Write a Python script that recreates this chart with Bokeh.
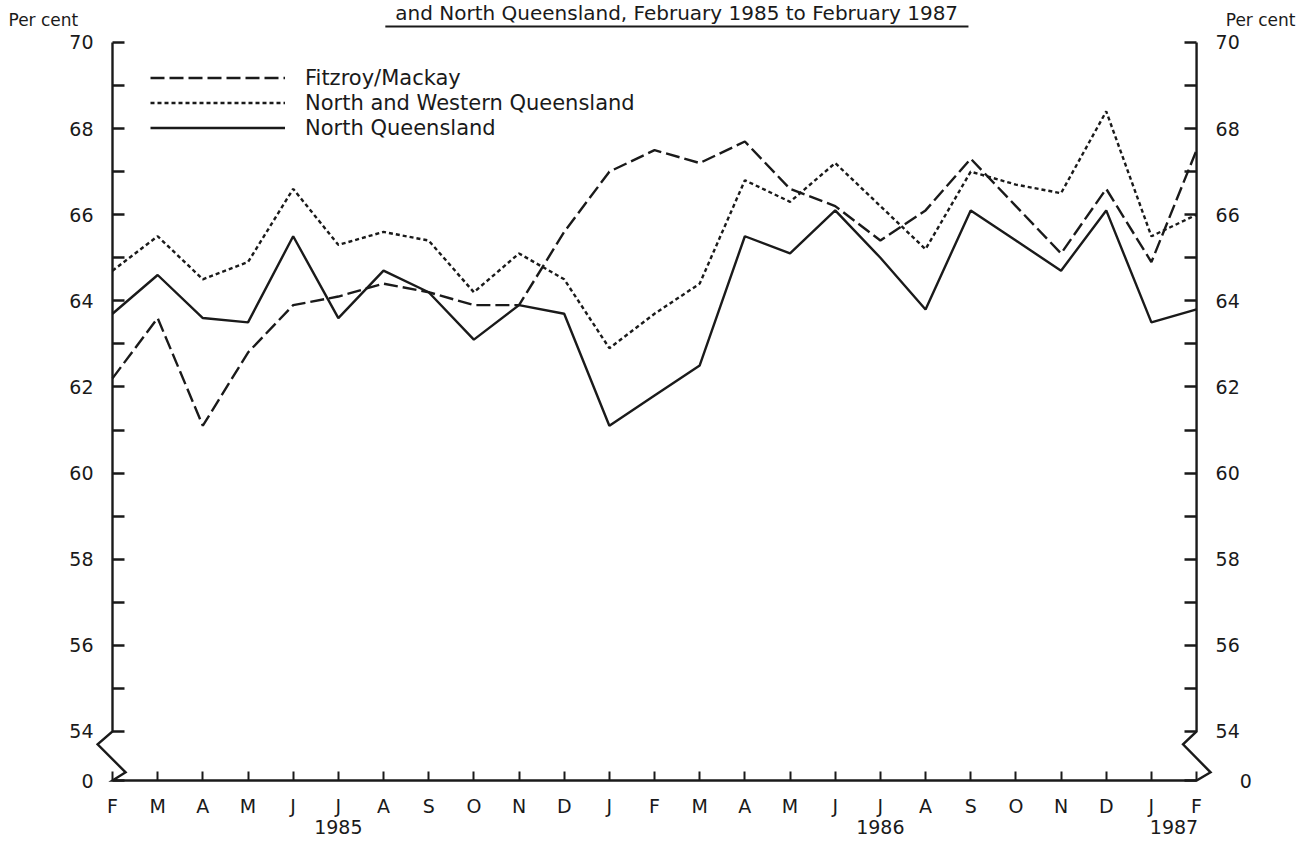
from bokeh.plotting import figure
from bokeh.models import (LinearAxis, FixedTicker, Range1d, Legend, LegendItem,
                          Label, ColumnDataSource)
from bokeh.embed import file_html
from bokeh.resources import INLINE

# ---------------- data ----------------
months = ["F", "M", "A", "M", "J", "J", "A", "S", "O", "N", "D", "J",
          "F", "M", "A", "M", "J", "J", "A", "S", "O", "N", "D", "J", "F"]
years = ["1985", "1986", "1987"]
year_pos = [5, 17, 23.5]

fitzroy_mackay = [62.2, 63.6, 61.1, 62.8, 63.9, 64.1, 64.4, 64.2, 63.9, 63.9,
                  65.6, 67.0, 67.5, 67.2, 67.7, 66.6, 66.2, 65.4, 66.1, 67.3,
                  66.2, 65.1, 66.6, 64.9, 67.5]
north_western_qld = [64.7, 65.5, 64.5, 64.9, 66.6, 65.3, 65.6, 65.4, 64.2, 65.1,
                     64.5, 62.9, 63.7, 64.4, 66.8, 66.3, 67.2, 66.2, 65.2, 67.0,
                     66.7, 66.5, 68.4, 65.5, 66.0]
north_qld = [63.7, 64.6, 63.6, 63.5, 65.5, 63.6, 64.7, 64.2, 63.1, 63.9,
             63.7, 61.1, 61.8, 62.5, 65.5, 65.1, 66.1, 65.0, 63.8, 66.1,
             65.4, 64.7, 66.1, 63.5, 63.8]

y_ticks = list(range(54, 71))
y_break = 52.86          # position at which the broken axis shows "0"
title_text = "and North Queensland, February 1985 to February 1987"

# ---------------- figure ----------------
FONT = "DejaVu Sans"
INK = "#1a1a1a"
W, H = 1300, 840

idx = list(range(len(months)))
src = ColumnDataSource(dict(x=idx, fm=fitzroy_mackay, nw=north_western_qld, nq=north_qld))

p = figure(width=W, height=H,
           x_range=Range1d(-2.4795, 26.301), y_range=Range1d(51.467, 70.975),
           output_backend="svg", toolbar_location=None,
           x_axis_type=None, y_axis_type=None,
           min_border_left=0, min_border_right=0,
           min_border_top=0, min_border_bottom=0)
p.min_border = 0
p.outline_line_color = None
p.background_fill_color = "white"
p.border_fill_color = "white"

# axis lines with the break zig-zags
n = len(months) - 1
p.line([0, 0, -0.33, 0.29, 0, n, n + 0.31, n - 0.3, n, n],
       [70, 54, 53.70, 53.05, y_break, y_break, 53.05, 53.70, 54, 70],
       line_color=INK, line_width=2.4, line_join="miter")

# y axes (ticks pointing inward, labels on even values)
for side, loc in (("left", 0), ("right", n)):
    overrides = {v: (str(v) if v % 2 == 0 else "") for v in y_ticks}
    overrides[y_break] = "0" if side == "left" else "\u2007\u20070"
    ax = LinearAxis(ticker=FixedTicker(ticks=[y_break] + y_ticks),
                    major_label_overrides=overrides, fixed_location=loc)
    ax.axis_line_color = None
    ax.major_tick_in = 12
    ax.major_tick_out = 0
    ax.major_tick_line_width = 2.4
    ax.major_tick_line_color = INK
    ax.minor_tick_line_color = None
    ax.major_label_standoff = 19
    ax.major_label_text_font = FONT
    ax.major_label_text_font_size = "19px"
    ax.major_label_text_color = INK
    p.add_layout(ax, side)

# x axis: month letters
xa = LinearAxis(ticker=FixedTicker(ticks=idx),
                major_label_overrides={i: m for i, m in enumerate(months)},
                fixed_location=y_break)
xa.axis_line_color = None
xa.major_tick_in = 9
xa.major_tick_out = 0
xa.major_tick_line_width = 2.0
xa.major_tick_line_color = INK
xa.minor_tick_line_color = None
xa.major_label_standoff = 14
xa.major_label_text_font = FONT
xa.major_label_text_font_size = "19px"
xa.major_label_text_color = INK
p.add_layout(xa, "below")

# x axis: years
ya = LinearAxis(ticker=FixedTicker(ticks=year_pos),
                major_label_overrides={v: t for v, t in zip(year_pos, years)},
                fixed_location=y_break)
ya.axis_line_color = None
ya.major_tick_line_color = None
ya.minor_tick_line_color = None
ya.major_label_standoff = 33
ya.major_label_text_font = FONT
ya.major_label_text_font_size = "19px"
ya.major_label_text_color = INK
p.add_layout(ya, "below")

# data lines
r_fm = p.line("x", "fm", source=src, line_color=INK, line_width=2.4, line_dash="14 5")
r_nw = p.line("x", "nw", source=src, line_color=INK, line_width=2.4, line_dash="4 3")
r_nq = p.line("x", "nq", source=src, line_color=INK, line_width=2.4)

legend = Legend(items=[LegendItem(label="Fitzroy/Mackay", renderers=[r_fm]),
                       LegendItem(label="North and Western Queensland", renderers=[r_nw]),
                       LegendItem(label="North Queensland", renderers=[r_nq])],
                location=(150, 700))
legend.background_fill_alpha = 0
legend.border_line_color = None
legend.padding = 0
legend.margin = 0
legend.spacing = 0
legend.glyph_width = 135
legend.glyph_height = 25
legend.label_height = 25
legend.label_standoff = 20
legend.label_text_font = FONT
legend.label_text_font_size = "21px"
legend.label_text_color = INK
legend.label_text_baseline = "middle"
p.add_layout(legend, "center")

# headings
p.add_layout(Label(x=-2.302, y=70.511, text="Per cent", text_align="left",
                   text_baseline="middle", text_font=FONT, text_font_size="17px",
                   text_color=INK))
p.add_layout(Label(x=26.19, y=70.511, text="Per cent", text_align="right",
                   text_baseline="middle", text_font=FONT, text_font_size="17px",
                   text_color=INK))
p.add_layout(Label(x=12.49, y=70.96, text=title_text, text_align="center",
                   text_baseline="top", text_font=FONT, text_font_size="20px",
                   text_color=INK))
p.segment(x0=[6.04], y0=[70.372], x1=[18.95], y1=[70.372], line_color=INK, line_width=2)

open("out.html", "w").write(file_html(p, INLINE))
